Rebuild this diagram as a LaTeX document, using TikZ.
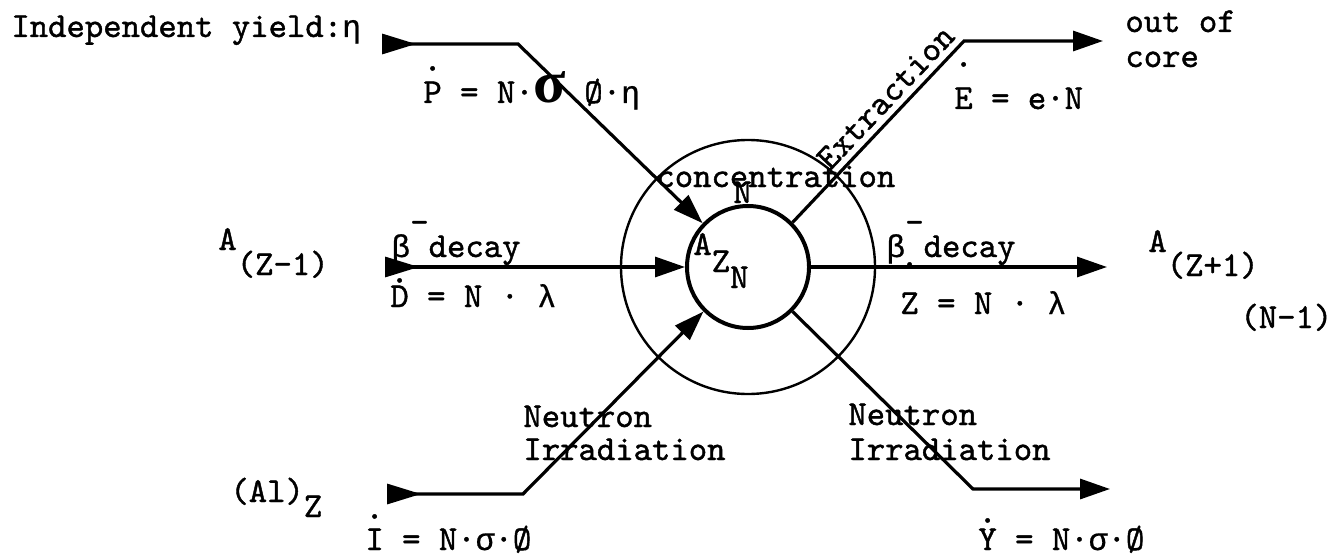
\documentclass[tikz,border=0pt]{standalone}
\usepackage{fontspec}
\usetikzlibrary{arrows.meta}
\newfontfamily\tw{lmmono10-regular.otf}[FakeBold=1.2]
\newfontfamily\grk[Scale=0.9,FakeBold=0.6]{Liberation Mono}
\newfontfamily\grkb[Scale=1.7]{Liberation Serif}
\newcommand\dotop[2]{\leavevmode\vbox{\offinterlineskip\halign{\hfil##\hfil\cr.\cr\noalign{\kern#1}#2\cr}}}
\tikzset{
  txt/.style={font=\fontsize{17.5}{21}\selectfont\tw, inner sep=0pt},
  lbl/.style={txt, anchor=base west},
  flow/.style={line width=1.6pt},
  outarrow/.style={flow, -{Triangle[length=15pt,width=10pt]}},
  inoutarrow/.style={flow, {Triangle[length=17pt,width=10pt,reversed]}-{Triangle[length=15pt,width=10pt]}},
}
\begin{document}
\begin{tikzpicture}[x=0.5pt,y=-0.5pt]
\path[use as bounding box] (0,0) rectangle (1337,556);

% circles
\node[circle, draw, line width=1.2pt, minimum size=127pt, inner sep=0pt] (outer) at (748,267) {};
\node[circle, draw, line width=2pt, minimum size=61pt, inner sep=0pt] (inner) at (748,267) {};

% coordinates
\coordinate (p1) at (382,44);  \coordinate (p1c) at (518,44);
\coordinate (e1c) at (964,41); \coordinate (e1) at (1103,41);
\coordinate (d1) at (385,267);
\coordinate (z1) at (1107,267);
\coordinate (i1) at (387,494); \coordinate (i1c) at (523,494);
\coordinate (y1c) at (973,489); \coordinate (y1) at (1110,489);

% connectors
\draw[inoutarrow] (p1) -- (p1c) -- (inner.136);
\draw[inoutarrow] (d1) -- (inner.west);
\draw[inoutarrow] (i1) -- (i1c) -- (inner.225);
\draw[outarrow] (inner.45) -- node[txt, sloped, above, inner sep=3pt, pos=0.62] (text) {Extraction} (e1c) -- (e1);
\draw[outarrow] (inner.east) -- (z1);
\draw[outarrow] (inner.-45) -- (y1c) -- (y1);

% labels
\node[lbl] (tyield) at (11,37) {Independent yield:{\grk η}};
\node[lbl] (tP) at (423,103) {\dotop{5.5pt}{P} = N·{\grkb\bfseries σ}\ Ø·{\grk η}};
\node[lbl] (tE) at (954,109) {\dotop{10.5pt}{E} = e·N};
\node[lbl] (tout1) at (1125,32) {out of};
\node[lbl] (tout2) at (1125,67) {core};
\node[lbl] (tconc) at (656,187) {concentration};
\node[lbl] (tN) at (733,203) {N};
\node[lbl] (tAZN) at (693,255) {A\raisebox{-8.5pt}{Z\raisebox{-8pt}{N}}};
\node[lbl] (tAm) at (218,250) {A\raisebox{-12.5pt}{(Z-1)}};
\node[lbl] (tAp) at (1148,252) {A\raisebox{-12pt}{(Z+1)}};
\node[lbl] (tNm) at (1240,328) {(N-1)};
\node[lbl] (tbl) at (391,257) {{\grk β}\raisebox{12pt}{-}decay};
\node[lbl] (tbr) at (886,257) {{\grk β}\raisebox{12pt}{-}decay};
\node[lbl] (tD) at (390,307) {\dotop{1.5pt}{D} = N · {\grk λ}};
\node[lbl] (tZ) at (900,314) {\dotop{13pt}{Z} = N · {\grk λ}};
\node[lbl] (tAl) at (230,502) {(Al)\raisebox{-7.5pt}{Z}};
\node[lbl] (tn1) at (523,427) {Neutron};
\node[lbl] (ti1) at (523,460) {Irradiation};
\node[lbl] (tn2) at (848,425) {Neutron};
\node[lbl] (ti2) at (848,460) {Irradiation};
\node[lbl] (tI) at (365,550) {\dotop{5pt}{I} = N·{\grk σ}·Ø};
\node[lbl] (tY) at (978,550) {\dotop{3pt}{Y} = N·{\grk σ}·Ø};
\end{tikzpicture}
\end{document}
